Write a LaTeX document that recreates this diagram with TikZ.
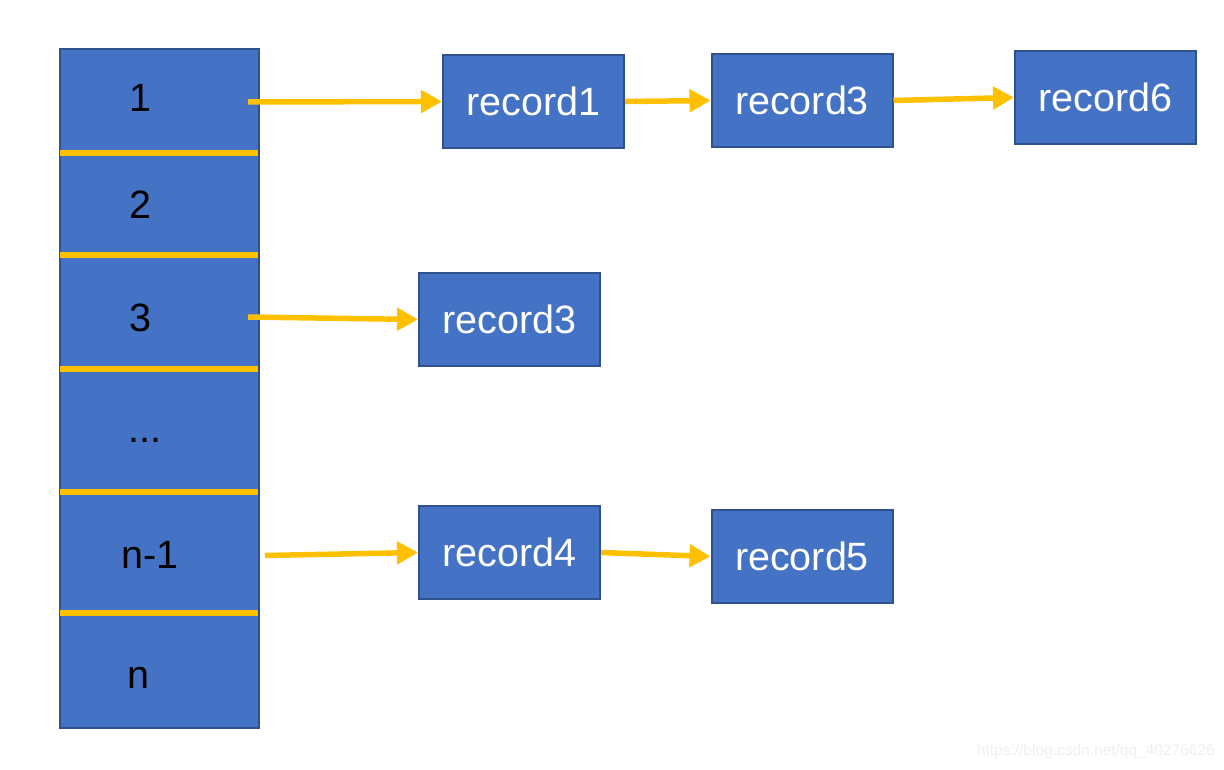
\documentclass[tikz,border=0pt]{standalone}
\usepackage{fontspec}
\setmainfont{Liberation Sans}
\usetikzlibrary{arrows.meta}
\definecolor{boxblue}{HTML}{4472C4}
\definecolor{boxedge}{HTML}{2F528F}
\definecolor{amber}{HTML}{FFC000}
\definecolor{wm}{HTML}{EFEFEF}
\tikzset{
  blk/.style={draw=boxedge, line width=2pt, fill=boxblue, inner sep=0pt},
  rec/.style={blk, minimum width=181pt, minimum height=93pt, text=white,
              font=\fontsize{39.5}{44}\selectfont},
  lbl/.style={text=black, font=\fontsize{39.5}{44}\selectfont, inner sep=0pt},
  sep/.style={draw=amber, line width=6pt},
  arr/.style={draw=amber, line width=5.5pt,
              -{Triangle[length=21pt, width=22pt]}},
  wmark/.style={text=wm, font=\fontsize{15.5}{18}\selectfont, inner sep=0pt}
}
\begin{document}
\begin{tikzpicture}[x=1pt, y=-1pt]
\useasboundingbox (0,0) rectangle (1224,770);
% hash table column
\node[blk, minimum width=199pt, minimum height=679pt, anchor=north west] (col) at (59,48) {};
\foreach \y/\n in {153/a,255/b,369/c,492/d,613/e}
  \draw[sep] (60,\y) coordinate (\n l) -- (258,\y) coordinate (\n r);
\node[lbl] (c1) at (140,98) {1};
\node[lbl] (c2) at (140,205) {2};
\node[lbl] (c3) at (140,318) {3};
\node[lbl, anchor=base] (c4) at (145,442) {...};
\node[lbl] (c5) at (150,555) {n-1};
\node[lbl] (c6) at (138,678) {n};
% records
\node[rec] (r1) at (533.5,101.5) {record1};
\node[rec] (r3a) at (802,100.5) {record3};
\node[rec] (r6) at (1105.5,97.5) {record6};
\node[rec] (r3b) at (509.5,319.5) {record3};
\node[rec] (r4) at (509.5,552.5) {record4};
\node[rec] (r5) at (802,556.5) {record5};
% arrow start points
\coordinate (s1) at (248,102);
\coordinate (s3) at (248,317);
\coordinate (s5) at (265,555.5);
\draw[arr] (s1) -- (r1.west);
\draw[arr] (r1.east) -- (r3a.west);
\draw[arr] (r3a.east) -- (r6.west);
\draw[arr] (s3) -- (r3b.west);
\draw[arr] (s5) -- (r4.west);
\draw[arr] (r4.east) -- (r5.west);
% watermark
\node[wmark, anchor=east] (wmk) at (1215,751) {https://blog.csdn.net/qq\_40276626};
\end{tikzpicture}
\end{document}
